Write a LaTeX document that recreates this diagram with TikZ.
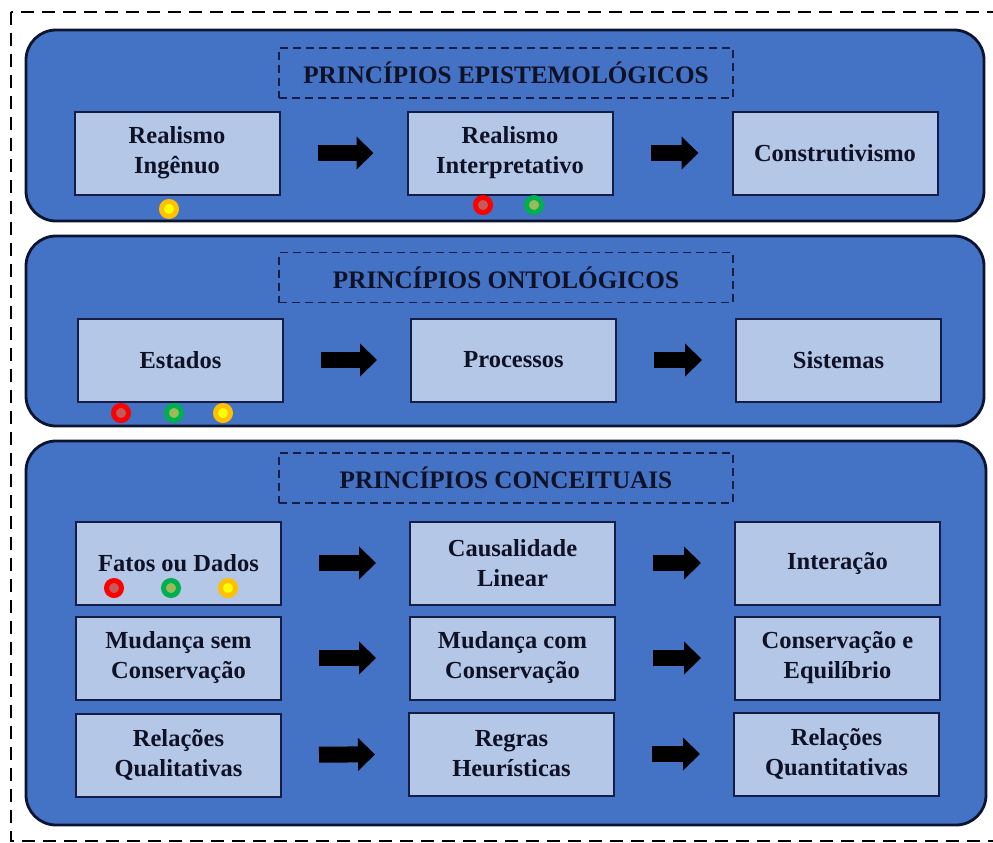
\documentclass[tikz,border=0pt]{standalone}
\usepackage{fontspec}
\setmainfont{Liberation Serif}
\usetikzlibrary{arrows.meta}
\definecolor{panelblue}{HTML}{4472C4}
\definecolor{boxblue}{HTML}{B4C7E7}
\definecolor{boxline}{HTML}{151C45}
\definecolor{panelline}{HTML}{0C1430}
\definecolor{inkdark}{HTML}{0F1126}
\definecolor{ringred}{HTML}{FF0000}
\definecolor{corered}{HTML}{C55A5A}
\definecolor{ringgreen}{HTML}{00B050}
\definecolor{coregreen}{HTML}{9BBB59}
\definecolor{ringyellow}{HTML}{FFC000}
\definecolor{coreyellow}{HTML}{FFFF00}
\begin{document}
\begin{tikzpicture}[x=1pt,y=-1pt,
  frame/.style={draw=black, line width=2.5pt, dash pattern=on 13pt off 8pt},
  panel/.style={draw=panelline, line width=2.8pt, fill=panelblue, rounded corners=30pt},
  box/.style={draw=boxline, line width=2pt, fill=boxblue, minimum width=205pt,
    minimum height=83pt, inner sep=0pt, align=center, text=inkdark,
    font=\bfseries\fontsize{24.5}{30}\selectfont},
  titlebox/.style={draw=boxline, line width=1.3pt, dash pattern=on 8pt off 5pt,
    minimum width=454pt, minimum height=50pt, inner sep=0pt, text=inkdark,
    font=\bfseries\fontsize{25.2}{30}\selectfont},
  flow/.style={draw=black, line width=16pt, -{Triangle[length=17pt,width=32pt]},
    shorten <=37pt, shorten >=33pt},
  dot/.style={circle, minimum size=15pt, inner sep=0pt, line width=5pt},
  reddot/.style={dot, draw=ringred, fill=corered},
  greendot/.style={dot, draw=ringgreen, fill=coregreen},
  yellowdot/.style={dot, draw=ringyellow, fill=coreyellow},
]
\useasboundingbox (0,0) rectangle (993,843);
\fill[white] (0,0) rectangle (993,843);

% outer dashed frame
\draw[frame] (11,12) rectangle (1010,841);

% three panels
\path[panel] (26,30) rectangle (984,221);
\path[panel] (26,236) rectangle (984,426);
\path[panel] (26,441) rectangle (986,825);

% epistemological principles
\node[titlebox] (t1) at (506,73) {PRINCÍPIOS EPISTEMOLÓGICOS};
\node[box] (ri) at (177,153) {Realismo\\Ingênuo};
\node[box] (rint) at (510,153) {Realismo\\Interpretativo};
\node[box] (cons) at (835,153) {Construtivismo};
\draw[flow] (ri) -- (rint);
\draw[flow] (rint) -- (cons);
\node[yellowdot] (y1) at (169,209) {};
\node[reddot] (r1) at (483,205) {};
\node[greendot] (g1) at (534,205) {};

% ontological principles
\node[titlebox] (t2) at (506,277.5) {PRINCÍPIOS ONTOLÓGICOS};
\node[box] (est) at (180.5,360) {Estados};
\node[box] (proc) at (513.5,360) {Processos};
\node[box] (sis) at (838.5,360) {Sistemas};
\draw[flow] (est) -- (proc);
\draw[flow] (proc) -- (sis);
\node[reddot] (r2) at (121,413) {};
\node[greendot] (g2) at (174,413) {};
\node[yellowdot] (y2) at (223,413) {};

% conceptual principles
\node[titlebox] (t3) at (506,478) {PRINCÍPIOS CONCEITUAIS};
\node[box] (fat) at (178.5,563) {Fatos ou Dados};
\node[box] (caus) at (512.5,563) {Causalidade\\Linear};
\node[box] (inter) at (837.5,563) {Interação};
\draw[flow] (fat) -- (caus);
\draw[flow] (caus) -- (inter);
\node[reddot] (r3) at (114,588) {};
\node[greendot] (g3) at (171,588) {};
\node[yellowdot] (y3) at (228,588) {};

\node[box] (msc) at (178.5,658) {Mudança sem\\Conservação};
\node[box] (mcc) at (512.5,658) {Mudança com\\Conservação};
\node[box] (ceq) at (837.5,658) {Conservação e\\Equilíbrio};
\draw[flow] (msc) -- (mcc);
\draw[flow] (mcc) -- (ceq);

\node[box] (rq) at (178.5,755) {Relações\\Qualitativas};
\node[box] (rh) at (511.5,754) {Regras\\Heurísticas};
\node[box] (rqt) at (836.5,754) {Relações\\Quantitativas};
\draw[flow] (rq) -- (rh);
\draw[flow] (rh) -- (rqt);
\end{tikzpicture}
\end{document}
